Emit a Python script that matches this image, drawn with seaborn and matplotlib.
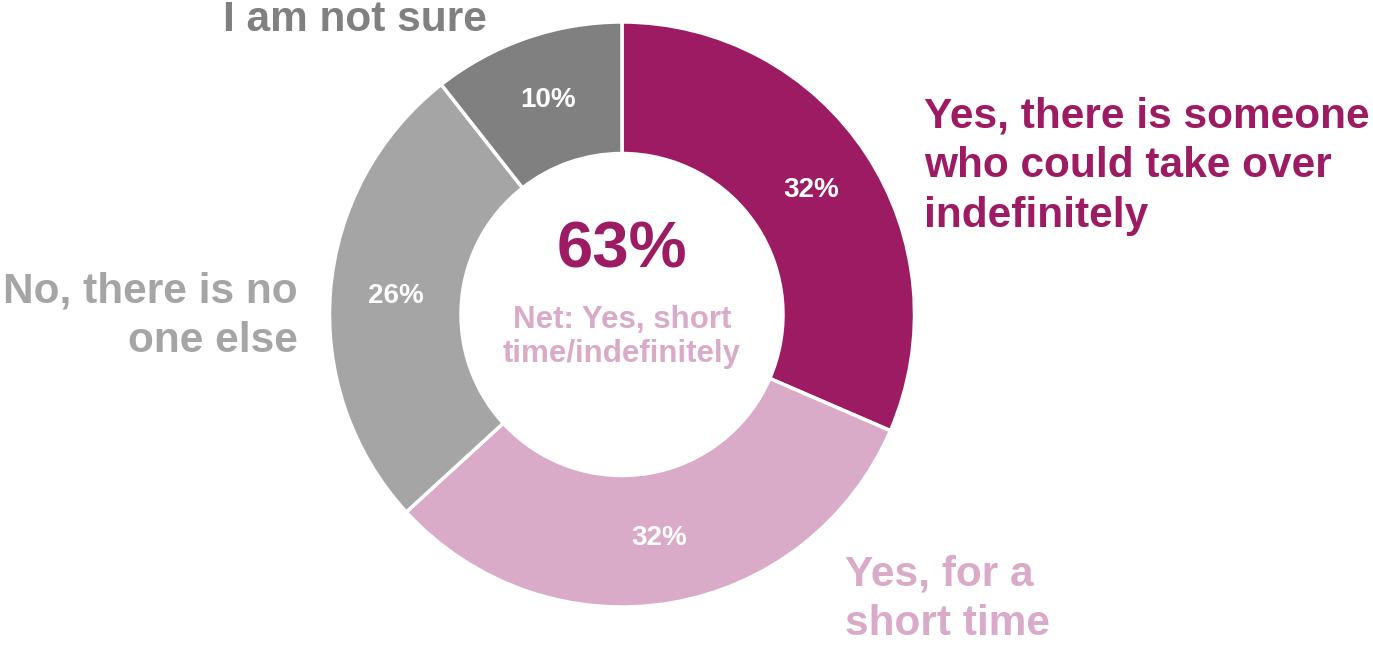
import numpy as np
import matplotlib
matplotlib.use("Agg")
import matplotlib.pyplot as plt
import seaborn as sns

# ---- data ----
categories = [
    "Yes, there is someone\nwho could take over\nindefinitely",
    "Yes, for a\nshort time",
    "No, there is no\none else",
    "I am not sure",
]
values = [31.5, 31.7, 26.2, 10.6]
pct_labels = ["32%", "32%", "26%", "10%"]
net_value = "63%"
net_label = "Net: Yes, short\ntime/indefinitely"

colors = ["#9C1B62", "#D9ABC8", "#A5A5A5", "#808080"]

sns.set_theme(style="white")
plt.rcParams["font.family"] = ["Liberation Sans", "DejaVu Sans"]

W, H = 1373, 645
fig = plt.figure(figsize=(W / 100, H / 100), dpi=100)
ax = fig.add_axes([0, 0, 1, 1])

cx, cy = 622, H - 314.5
R = 292.5
width = R - 161

wedges, _ = ax.pie(values, colors=colors, startangle=90, counterclock=False,
                   center=(cx, cy), radius=R, frame=True,
                   wedgeprops=dict(width=width, edgecolor="white", linewidth=2.5))
ax.set_xlim(0, W)
ax.set_ylim(0, H)
ax.set_aspect("equal")
ax.axis("off")

r_lab = R - width / 2
for w, lab in zip(wedges, pct_labels):
    ang = np.deg2rad((w.theta1 + w.theta2) / 2)
    ax.text(cx + r_lab * np.cos(ang), cy + r_lab * np.sin(ang), lab,
            ha="center", va="center", color="white", fontsize=20, fontweight="bold")

# center text
ax.text(cx, H - 251, net_value, ha="center", va="center", color=colors[0],
        fontsize=47, fontweight="bold")
ax.text(cx, H - 337, net_label, ha="center", va="center", color=colors[1],
        fontsize=22.5, fontweight="bold", linespacing=1.2)

# category labels
lab_fs = 30.5
lab_ls = 1.32
ax.text(924, H - 166, categories[0], ha="left", va="center", color=colors[0],
        fontsize=lab_fs, fontweight="bold", linespacing=lab_ls)
ax.text(845, H - 599, categories[1], ha="left", va="center", color=colors[1],
        fontsize=lab_fs, fontweight="bold", linespacing=lab_ls)
ax.text(298, H - 316, categories[2], ha="right", va="center", color=colors[2],
        fontsize=lab_fs, fontweight="bold", linespacing=lab_ls)
ax.text(487, H - 20, categories[3], ha="right", va="center", color=colors[3],
        fontsize=lab_fs, fontweight="bold")

fig.savefig("out.png", dpi=100, facecolor="white")
